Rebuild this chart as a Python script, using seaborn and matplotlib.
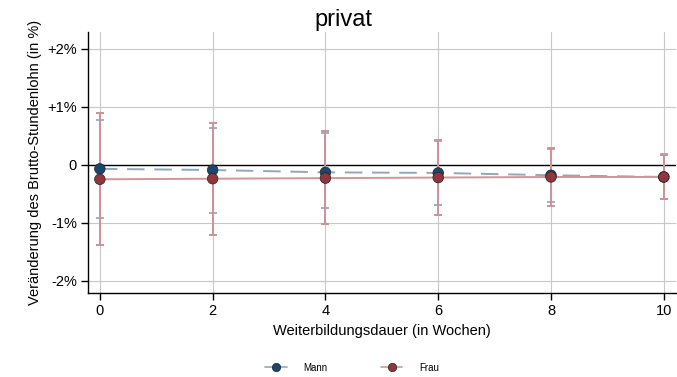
import numpy as np
import pandas as pd
import matplotlib
matplotlib.use("Agg")
import matplotlib.pyplot as plt
import seaborn as sns
from matplotlib.lines import Line2D

sns.set_theme(style="whitegrid")
plt.rcParams['font.family'] = ['Liberation Sans', 'DejaVu Sans']
plt.rcParams['text.color'] = 'black'
plt.rcParams['axes.labelcolor'] = 'black'
plt.rcParams['xtick.color'] = 'black'
plt.rcParams['ytick.color'] = 'black'

# Werte in Prozent
wochen = [0, 2, 4, 6, 8, 10]
mann_wert = [-0.07, -0.09, -0.13, -0.14, -0.18, -0.21]
mann_unten = [-0.91, -0.83, -0.75, -0.70, -0.64, -0.59]
mann_oben = [0.78, 0.64, 0.55, 0.41, 0.28, 0.19]
frau_wert = [-0.25, -0.24, -0.23, -0.22, -0.21, -0.21]
frau_unten = [-1.38, -1.21, -1.02, -0.86, -0.71, -0.59]
frau_oben = [0.89, 0.72, 0.58, 0.42, 0.29, 0.17]

gruppen = ['Mann', 'Frau']
farben = {'Mann': '#1a476f', 'Frau': '#90353b'}
ci_farben = {'Mann': '#9db1c6', 'Frau': '#cf9196'}
linien_farben = {'Mann': '#8fa8c0', 'Frau': '#d49499'}

df = pd.DataFrame({
    'woche': wochen * 2,
    'wert': mann_wert + frau_wert,
    'unten': mann_unten + frau_unten,
    'oben': mann_oben + frau_oben,
    'gruppe': ['Mann'] * len(wochen) + ['Frau'] * len(wochen),
})

fig = plt.figure(figsize=(6.77, 3.77), dpi=100)
ax = fig.add_axes([0.130, 0.223, 0.868, 0.692])

# Konfidenzintervalle (Frau liegt oben)
for g in ['Mann', 'Frau']:
    sub = df[df['gruppe'] == g]
    ax.errorbar(sub['woche'], sub['wert'],
                yerr=[sub['wert'] - sub['unten'], sub['oben'] - sub['wert']],
                fmt='none', ecolor=ci_farben[g], elinewidth=1.4, capsize=3,
                capthick=1.4, zorder=2)

# Verbindungslinien
sns.lineplot(data=df[df['gruppe'] == 'Mann'], x='woche', y='wert', ax=ax,
             color=linien_farben['Mann'], linestyle=(0, (9, 5)), linewidth=1.4,
             zorder=3, legend=False)
sns.lineplot(data=df[df['gruppe'] == 'Frau'], x='woche', y='wert', ax=ax,
             color=linien_farben['Frau'], linewidth=1.4, zorder=3, legend=False)

# Punkte
sns.scatterplot(data=df, x='woche', y='wert', hue='gruppe', hue_order=gruppen,
                palette=farben, s=58, edgecolor='#222222', linewidth=0.5,
                zorder=5, ax=ax, legend=False)

ax.axhline(0, color='black', linewidth=1.0, zorder=1)

ax.set_xlim(-0.21, 10.21)
ax.set_ylim(-2.21, 2.29)
ax.set_xticks(wochen)
ax.set_yticks([-2, -1, 0, 1, 2])
ax.set_yticklabels(['-2%', '-1%', '0', '+1%', '+2%'])
ax.grid(True, color='#c8c8c8', linewidth=0.8)
for s in ['top', 'right']:
    ax.spines[s].set_visible(False)
for s in ['left', 'bottom']:
    ax.spines[s].set_color('black')
    ax.spines[s].set_linewidth(1.0)
ax.tick_params(axis='both', which='major', length=5, width=1, color='black',
               labelsize=10.5, pad=3, left=True, bottom=True)

# Titel ist auf die ganze Grafik zentriert
fig.text(0.507, 0.975, 'privat', fontsize=17, ha='center', va='top')
ax.set_xlabel('Weiterbildungsdauer (in Wochen)', fontsize=10.5, labelpad=4)
ax.set_ylabel('Veränderung des Brutto-Stundenlohn (in %)', fontsize=10.5, labelpad=4)

# Legende
handles = [Line2D([0], [0], color=linien_farben[g], marker='o', markersize=6,
                  markerfacecolor=farben[g], markeredgecolor='#222222',
                  markeredgewidth=0.5, linewidth=1.2) for g in gruppen]
fig.legend(handles, gruppen, loc='center', bbox_to_anchor=(0.52, 0.025),
           ncol=2, frameon=False, fontsize=7, handlelength=2.2,
           columnspacing=5.5, handletextpad=1.7)

fig.savefig('out.png', dpi=100)
